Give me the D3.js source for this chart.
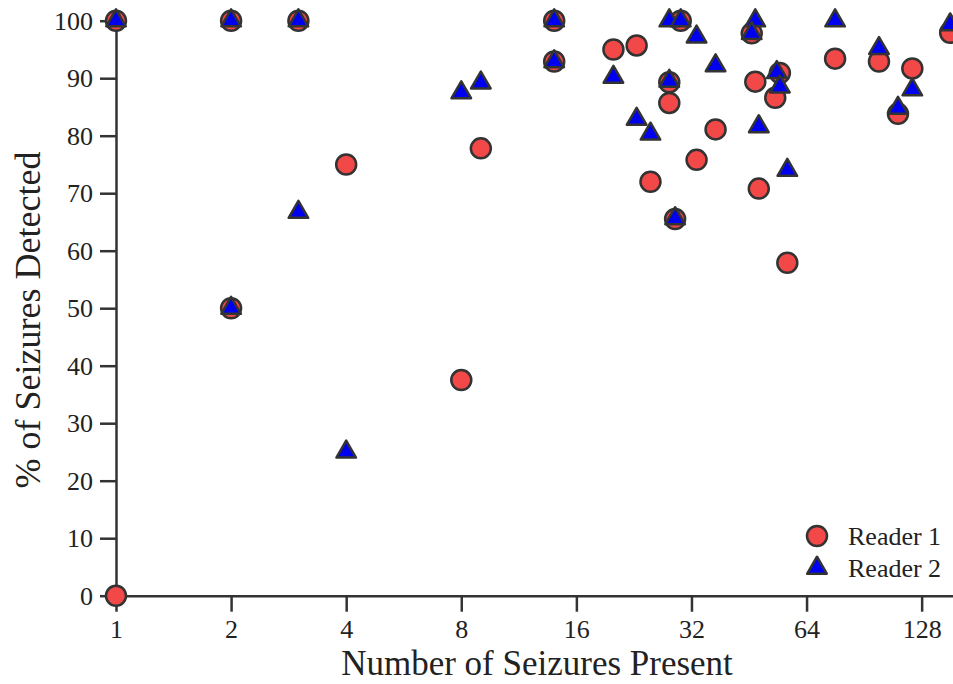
<!DOCTYPE html>
<html>
<head>
<meta charset="utf-8">
<script src="https://cdn.jsdelivr.net/npm/d3@7"></script>
<style>
  body { margin: 0; background: #fff; }
  svg text { font-family: "Liberation Serif", "Times New Roman", serif !important; fill: #222; }
</style>
</head>
<body>
<div id="chart"></div>
<script>
// Reader 1: [seizures present, % detected]
const reader1 = [
    [1, 100], [1, 0], [2, 100], [2, 50], [3, 100], [4, 75], [8, 37.5], [9, 77.8],
    [14, 100], [14, 92.9], [20, 95], [23, 95.7], [28, 89.3], [28, 85.7], [25, 72],
    [29, 65.5], [30, 100], [33, 75.8], [37, 81.1], [46, 97.8], [47, 89.4], [48, 70.8],
    [54.5, 90.9], [53, 86.6], [57, 57.9], [76, 93.4], [99, 92.9], [121, 91.7],
    [111, 83.8], [152, 97.9]
];

// Reader 2
const reader2 = [
    [1, 100], [2, 100], [2, 50], [3, 100], [3, 66.7], [4, 25], [8, 87.5], [9, 89.2],
    [14, 100], [14, 92.9], [20, 90.2], [23, 82.9], [25, 80.3], [28, 100], [28, 89.5],
    [30, 100], [29, 65.6], [33, 97.2], [37, 92.2], [47, 100], [46, 97.8], [48, 81.6],
    [53.5, 91], [54.5, 88.5], [57, 74], [76, 100], [99, 95.2], [121, 88], [111, 84.8],
    [152, 99.3]
];

const xTicks = [1, 2, 4, 8, 16, 32, 64, 128];
const yTicks = [0, 10, 20, 30, 40, 50, 60, 70, 80, 90, 100];

const width = 953, height = 684;
const margin = { top: 20.7, right: 0, bottom: 88.3, left: 116 };

const svg = d3.select("#chart").append("svg")
              .attr("width", width)
              .attr("height", height);

const x = d3.scaleLog().base(2)
            .domain([1, 154.6])
            .range([margin.left, width - margin.right]);

const y = d3.scaleLinear()
            .domain([0, 100])
            .range([height - margin.bottom, margin.top]);

const axisColor = "#333";

// X axis
const gx = svg.append("g")
              .attr("transform", `translate(0,${height - margin.bottom})`)
              .call(d3.axisBottom(x).tickValues(xTicks).tickFormat(d3.format("d"))
                      .tickSizeInner(16).tickSizeOuter(0).tickPadding(8));
gx.attr("font-family", null).attr("font-size", null);
gx.select(".domain").attr("stroke", axisColor).attr("stroke-width", 2.5);
gx.selectAll(".tick line").attr("stroke", axisColor).attr("stroke-width", 2.5);
gx.selectAll(".tick text").style("font-size", "26px").attr("fill", "#222");

// Y axis
const gy = svg.append("g")
              .attr("transform", `translate(${margin.left},0)`)
              .call(d3.axisLeft(y).tickValues(yTicks)
                      .tickSizeInner(16).tickSizeOuter(0).tickPadding(7));
gy.attr("font-family", null).attr("font-size", null);
gy.select(".domain").attr("stroke", axisColor).attr("stroke-width", 2.5);
gy.selectAll(".tick line").attr("stroke", axisColor).attr("stroke-width", 2.5);
gy.selectAll(".tick text").style("font-size", "26px").attr("fill", "#222");

// Axis titles
svg.append("text")
   .attr("x", 537)
   .attr("y", 675)
   .attr("text-anchor", "middle")
   .style("font-size", "35px")
   .text("Number of Seizures Present");

svg.append("text")
   .attr("transform", "translate(40,320) rotate(-90)")
   .attr("text-anchor", "middle")
   .style("font-size", "36px")
   .text("% of Seizures Detected");

// Markers
const red = "#f24848", blue = "#0000f0";
const tri = d3.symbol().type(d3.symbolTriangle).size(165);

svg.append("g").selectAll("circle")
   .data(reader1)
   .enter()
   .append("circle")
   .attr("cx", d => x(d[0]))
   .attr("cy", d => y(d[1]))
   .attr("r", 10)
   .attr("fill", red)
   .attr("stroke", axisColor)
   .attr("stroke-width", 2.5);

svg.append("g").selectAll("path")
   .data(reader2)
   .enter()
   .append("path")
   .attr("d", tri)
   .attr("transform", d => `translate(${x(d[0])},${y(d[1])})`)
   .attr("fill", blue)
   .attr("stroke", axisColor)
   .attr("stroke-width", 2.5)
   .attr("stroke-linejoin", "round");

// Legend
const legend = svg.append("g").attr("transform", "translate(817,536)");
legend.append("circle")
      .attr("r", 10)
      .attr("fill", red)
      .attr("stroke", axisColor)
      .attr("stroke-width", 2.5);
legend.append("path")
      .attr("d", tri)
      .attr("transform", "translate(0,32)")
      .attr("fill", blue)
      .attr("stroke", axisColor)
      .attr("stroke-width", 2.5)
      .attr("stroke-linejoin", "round");
legend.append("text").attr("x", 31).attr("y", 9).style("font-size", "26px").text("Reader 1");
legend.append("text").attr("x", 31).attr("y", 41).style("font-size", "26px").text("Reader 2");
</script>
</body>
</html>
